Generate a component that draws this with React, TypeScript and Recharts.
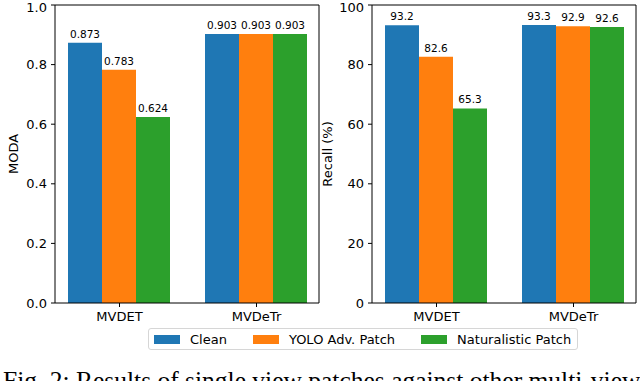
import React from 'react'
import { BarChart, Bar, XAxis, YAxis, LabelList } from 'recharts'

const categories = ['MVDET', 'MVDeTr']

const modaClean = [0.873, 0.903]
const modaYolo = [0.783, 0.903]
const modaNatural = [0.624, 0.903]

const recallClean = [93.2, 93.3]
const recallYolo = [82.6, 92.9]
const recallNatural = [65.3, 92.6]

const modaTicks = [0, 0.2, 0.4, 0.6, 0.8, 1.0]
const recallTicks = [0, 20, 40, 60, 80, 100]

const series = [
  { key: 'clean', name: 'Clean', color: '#1f77b4' },
  { key: 'yolo', name: 'YOLO Adv. Patch', color: '#ff7f0e' },
  { key: 'natural', name: 'Naturalistic Patch', color: '#2ca02c' },
]

const modaData = categories.map((name, i) => ({
  name,
  clean: modaClean[i],
  yolo: modaYolo[i],
  natural: modaNatural[i],
}))

const recallData = categories.map((name, i) => ({
  name,
  clean: recallClean[i],
  yolo: recallYolo[i],
  natural: recallNatural[i],
}))

const FONT = '"DejaVu Sans", sans-serif'
const tickStyle = { fontSize: 13, fill: '#000', fontFamily: FONT }

function AxisTitle(props: any) {
  const { viewBox, value, cx } = props
  const x = viewBox.x + cx
  const y = viewBox.y + viewBox.height / 2
  return (
    <text
      x={x}
      y={y}
      transform={`rotate(-90 ${x} ${y})`}
      textAnchor="middle"
      dominantBaseline="central"
      fontSize={13}
      fill="#000"
      fontFamily={FONT}
    >
      {value}
    </text>
  )
}

function Panel({ data, ticks, max, title, titleX, fmt, yWidth, width, right }: any) {
  return (
    <BarChart
      width={width}
      height={330}
      data={data}
      margin={{ top: 4, right, left: 0, bottom: 0 }}
      barCategoryGap={17}
      barGap={0}
    >
      <XAxis
        dataKey="name"
        tick={tickStyle}
        tickSize={4}
        tickMargin={5}
        height={27}
        padding={{ left: -4, right: -6 }}
        stroke="#000"
        tickLine={{ stroke: '#000' }}
        interval={0}
      />
      <XAxis
        xAxisId="top"
        dataKey="name"
        orientation="top"
        tick={false}
        tickLine={false}
        height={1}
        stroke="#000"
      />
      <YAxis
        domain={[0, max]}
        ticks={ticks}
        tick={tickStyle}
        tickSize={4}
        tickMargin={4}
        width={yWidth}
        stroke="#000"
        tickLine={{ stroke: '#000' }}
        tickFormatter={(v: number) => (max === 1 ? v.toFixed(1) : String(v))}
        label={{ content: (p: any) => <AxisTitle {...p} value={title} cx={titleX} /> }}
      />
      <YAxis
        yAxisId="right"
        orientation="right"
        domain={[0, max]}
        tick={false}
        tickLine={false}
        width={1}
        stroke="#000"
      />
      {series.map((s) => (
        <Bar key={s.key} dataKey={s.key} name={s.name} fill={s.color} isAnimationActive={false}>
          <LabelList
            dataKey={s.key}
            position="top"
            offset={5}
            formatter={fmt}
            style={{ fontSize: 10.5, fill: '#000', fontFamily: FONT }}
          />
        </Bar>
      ))}
    </BarChart>
  )
}

export default function App() {
  return (
    <div
      style={{
        position: 'absolute',
        left: 0,
        top: 0,
        width: 640,
        height: 381,
        overflow: 'hidden',
        background: '#fff',
      }}
    >
      <div style={{ position: 'absolute', left: 0, top: 0 }}>
        <Panel
          data={modaData}
          ticks={modaTicks}
          max={1}
          title="MODA"
          titleX={13}
          fmt={(v: number) => v.toFixed(3)}
          yWidth={55}
          width={322}
          right={2}
        />
      </div>
      <div style={{ position: 'absolute', left: 318, top: 0 }}>
        <Panel
          data={recallData}
          ticks={recallTicks}
          max={100}
          title="Recall (%)"
          titleX={9.5}
          fmt={(v: number) => v.toFixed(1)}
          yWidth={54}
          width={322}
          right={3}
        />
      </div>
      <div
        style={{
          position: 'absolute',
          left: 148,
          top: 328,
          width: 430,
          height: 22,
          boxSizing: 'border-box',
          border: '1px solid #d6d6d6',
          borderRadius: 3,
          display: 'flex',
          alignItems: 'center',
          paddingLeft: 5,
          fontFamily: FONT,
          fontSize: 13,
          color: '#000',
        }}
      >
        {series.map((s, i) => (
          <div key={s.key} style={{ display: 'flex', alignItems: 'center', marginLeft: i === 0 ? 0 : 26 }}>
            <span style={{ width: 26, height: 9, background: s.color, marginRight: 10, display: 'inline-block' }} />
            <span>{s.name}</span>
          </div>
        ))}
      </div>
      <div
        style={{
          position: 'absolute',
          left: 3,
          top: 366,
          whiteSpace: 'nowrap',
          fontFamily: '"Liberation Serif", serif',
          fontSize: 25.5,
          color: '#000',
        }}
      >
        Fig. 2: Results of single view patches against other multi-view
      </div>
    </div>
  )
}
